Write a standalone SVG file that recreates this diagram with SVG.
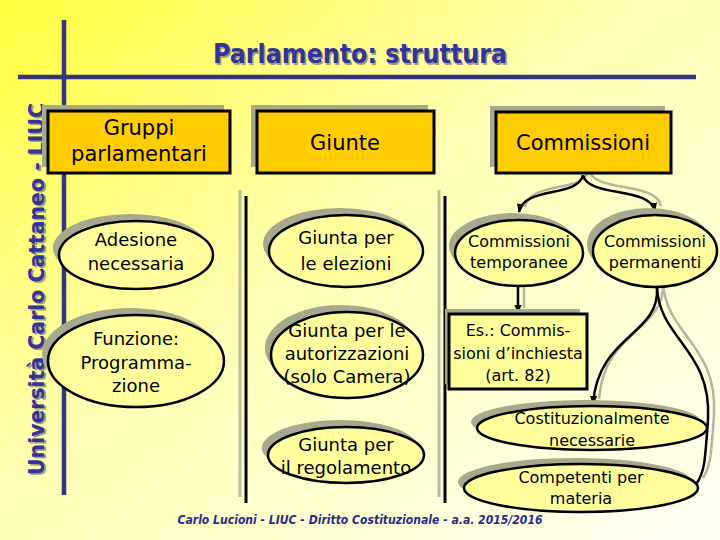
<svg xmlns="http://www.w3.org/2000/svg" width="720" height="540" viewBox="0 0 720 540">
<defs>
<linearGradient id="bg" x1="0" y1="0" x2="1" y2="1">
<stop offset="0" stop-color="#FFFF3C"/>
<stop offset="0.45" stop-color="#FFFFB4"/>
<stop offset="1" stop-color="#FFFFF4"/>
</linearGradient>
<marker id="ah" viewBox="0 0 10 10" refX="9" refY="5" markerWidth="9" markerHeight="9" markerUnits="userSpaceOnUse" orient="auto">
<path d="M0,1 L10,5 L0,9 z" fill="#000"/>
</marker>
<style>
.t{font-family:"DejaVu Sans","Liberation Sans",sans-serif;fill:#000;text-anchor:middle}
.hdr{font-size:21px}
.el{font-size:18px}
.sm{font-size:16px}
.box{fill:#FFCC00;stroke:#000;stroke-width:3}
.pbox{fill:#FFFF99;stroke:#000;stroke-width:3}
.sh{fill:#A8A88C}
.ell{fill:#FFFF9E;stroke:#000;stroke-width:2.5}
.con{fill:none;stroke:#000;stroke-width:2.5}
.csh{fill:none;stroke:#B4B4A0;stroke-width:2.5}
.navy{stroke:#333380;stroke-width:4.5}
.sepg{stroke:#BDBDA0;stroke-width:3}
.sepb{stroke:#000;stroke-width:3}
.navyt{font-family:"DejaVu Sans","Liberation Sans",sans-serif;fill:#333399;text-anchor:middle}
</style>
</defs>
<rect width="720" height="540" fill="url(#bg)"/>

<g id="frame">
<line class="navy" x1="64" y1="20" x2="64" y2="495"/>
<line class="navy" x1="18" y1="77" x2="696" y2="77"/>
<line class="sepg" x1="240" y1="190" x2="240" y2="497"/>
<line class="sepb" x1="246" y1="196" x2="246" y2="503"/>
<line class="sepg" x1="439" y1="190" x2="439" y2="497"/>
<line class="sepb" x1="445" y1="196" x2="445" y2="503"/>
</g>

<g id="title">
<text class="navyt" x="361.5" y="64.5" font-size="26" font-weight="bold" textLength="294" lengthAdjust="spacingAndGlyphs" style="fill:#A0A080">Parlamento: struttura</text>
<text class="navyt" x="360" y="63" font-size="26" font-weight="bold" textLength="294" lengthAdjust="spacingAndGlyphs">Parlamento: struttura</text>
</g>

<g id="side">
<text class="navyt" transform="translate(45.5,290.5) rotate(-90)" font-size="22" font-weight="bold" textLength="372" lengthAdjust="spacingAndGlyphs" style="fill:#A0A080">Università Carlo Cattaneo - LIUC</text>
<text class="navyt" transform="translate(44,289) rotate(-90)" font-size="22" font-weight="bold" textLength="372" lengthAdjust="spacingAndGlyphs">Università Carlo Cattaneo - LIUC</text>
</g>

<g id="footer">
<text class="navyt" x="360" y="524" font-size="12" font-style="italic" font-weight="bold" textLength="365" lengthAdjust="spacingAndGlyphs" style="fill:#2A2A8A">Carlo Lucioni - LIUC - Diritto Costituzionale - a.a. 2015/2016</text>
</g>

<g id="connectors">
<path class="csh" d="M589,170 C584,193 530,181 525,207"/>
<path class="csh" d="M589,170 C594,193 656,181 661,206"/>
<path class="csh" d="M524,282 L524,308"/>
<path class="csh" d="M663,283 C666,330 604,330 599,399"/>
<path class="csh" d="M663,283 C666,335 718,345 714,415 C711,455 711,465 703,478"/>
<path class="con" d="M583,175 C578,198 524,186 519,212" marker-end="url(#ah)"/>
<path class="con" d="M583,175 C588,198 650,186 655,211" marker-end="url(#ah)"/>
<path class="con" d="M518,287 L518,313" marker-end="url(#ah)"/>
<path class="con" d="M657,288 C660,335 598,335 593,404" marker-end="url(#ah)"/>
<path class="con" d="M657,288 C660,340 712,350 708,420 C705,460 705,470 697,483"/>
</g>

<g id="gruppi">
<rect class="sh" x="42" y="105" width="182" height="62"/>
<rect class="box" x="48" y="111" width="182" height="62"/>
<text class="t hdr" x="139" y="135">Gruppi</text>
<text class="t hdr" x="139" y="161">parlamentari</text>
</g>

<g id="giunte">
<rect class="sh" x="251" y="105" width="177" height="62"/>
<rect class="box" x="257" y="111" width="177" height="62"/>
<text class="t hdr" x="345" y="150">Giunte</text>
</g>

<g id="commissioni">
<rect class="sh" x="490" y="106" width="175" height="61"/>
<rect class="box" x="496" y="112" width="175" height="61"/>
<text class="t hdr" x="583" y="150">Commissioni</text>
</g>

<g id="adesione">
<ellipse class="sh" cx="130" cy="248" rx="77" ry="34"/>
<ellipse class="ell" cx="136" cy="255" rx="77" ry="34"/>
<text class="t el" x="136" y="246">Adesione</text>
<text class="t el" x="136" y="270">necessaria</text>
</g>

<g id="funzione">
<ellipse class="sh" cx="130" cy="354" rx="88" ry="46"/>
<ellipse class="ell" cx="136" cy="361" rx="88" ry="46"/>
<text class="t el" x="136" y="345">Funzione:</text>
<text class="t el" x="136" y="369">Programma-</text>
<text class="t el" x="136" y="392">zione</text>
</g>

<g id="elezioni">
<ellipse class="sh" cx="340" cy="244" rx="77" ry="36"/>
<ellipse class="ell" cx="346" cy="251" rx="77" ry="36"/>
<text class="t el" x="346" y="244">Giunta per</text>
<text class="t el" x="346" y="270">le elezioni</text>
</g>

<g id="autorizzazioni">
<ellipse class="sh" cx="341" cy="348" rx="76" ry="43"/>
<ellipse class="ell" cx="347" cy="355" rx="76" ry="43"/>
<text class="t el" x="347" y="337">Giunta per le</text>
<text class="t el" x="347" y="360">autorizzazioni</text>
<text class="t el" x="347" y="383">(solo Camera)</text>
</g>

<g id="regolamento">
<ellipse class="sh" cx="340" cy="448" rx="78" ry="28"/>
<ellipse class="ell" cx="346" cy="455" rx="78" ry="28"/>
<text class="t el" x="346" y="451">Giunta per</text>
<text class="t el" x="346" y="474">il regolamento</text>
</g>

<g id="temporanee">
<ellipse class="sh" cx="513" cy="246" rx="64" ry="33"/>
<ellipse class="ell" cx="519" cy="253" rx="64" ry="33"/>
<text class="t sm" x="519" y="247">Commissioni</text>
<text class="t sm" x="519" y="268">temporanee</text>
</g>

<g id="permanenti">
<ellipse class="sh" cx="649" cy="244" rx="62" ry="36"/>
<ellipse class="ell" cx="655" cy="251" rx="62" ry="36"/>
<text class="t sm" x="655" y="247">Commissioni</text>
<text class="t sm" x="655" y="268">permanenti</text>
</g>

<g id="inchiesta">
<rect class="sh" x="445" y="309" width="135" height="75"/>
<rect class="pbox" x="449" y="314" width="138" height="75"/>
<text class="t sm" x="518" y="336">Es.: Commis-</text>
<text class="t sm" x="518" y="359">sioni d’inchiesta</text>
<text class="t sm" x="518" y="381">(art. 82)</text>
</g>

<g id="costituzionali">
<ellipse class="sh" cx="586" cy="422" rx="115" ry="22"/>
<ellipse class="ell" cx="592" cy="428" rx="115" ry="22"/>
<text class="t sm" x="592" y="424">Costituzionalmente</text>
<text class="t sm" x="592" y="446">necessarie</text>
</g>

<g id="competenti">
<ellipse class="sh" cx="575" cy="482" rx="117" ry="24"/>
<ellipse class="ell" cx="581" cy="488" rx="117" ry="24"/>
<text class="t sm" x="581" y="483">Competenti per</text>
<text class="t sm" x="581" y="504">materia</text>
</g>
</svg>
